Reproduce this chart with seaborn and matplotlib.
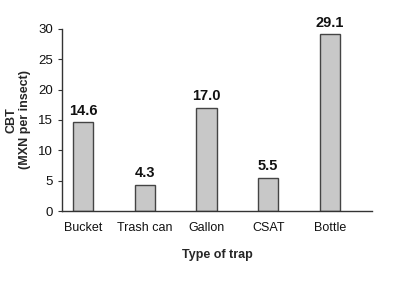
import pandas as pd
import seaborn as sns
import matplotlib.pyplot as plt

traps = ["Bucket", "Trash can", "Gallon", "CSAT", "Bottle"]
cbt = [14.6, 4.3, 17.0, 5.5, 29.1]
yticks = [0, 5, 10, 15, 20, 25, 30]

df = pd.DataFrame({"trap": traps, "cbt": cbt})

sns.set_style("ticks")
plt.rcParams["font.family"] = ["Liberation Sans", "DejaVu Sans"]

fig = plt.figure(figsize=(4.12, 2.81), dpi=100)
ax = fig.add_axes([0.1505, 0.249, 0.7525, 0.648])

sns.barplot(data=df, x="trap", y="cbt", ax=ax, color="#c8c8c8",
            edgecolor="#444444", linewidth=1.0, width=0.33, saturation=1)

for i, v in enumerate(cbt):
    ax.text(i, v + 0.8, f"{v:.1f}", ha="center", va="bottom",
            fontsize=10.5, fontweight="bold", color="#111111")

ax.set_ylim(0, 30)
ax.set_xlim(-0.34, 4.68)
ax.set_yticks(yticks)
ax.tick_params(axis="x", length=0, pad=8, labelsize=9, labelcolor="#111111")
ax.tick_params(axis="y", length=3, labelsize=9.5, color="#333333", labelcolor="#111111")
ax.set_xlabel("Type of trap", fontsize=9, fontweight="bold", labelpad=11)
ax.set_ylabel("CBT\n(MXN per insect)", fontsize=9, fontweight="bold", labelpad=5)
sns.despine(ax=ax)
for s in ["left", "bottom"]:
    ax.spines[s].set_color("#333333")
    ax.spines[s].set_linewidth(1.0)

fig.savefig("out.png", dpi=100)
